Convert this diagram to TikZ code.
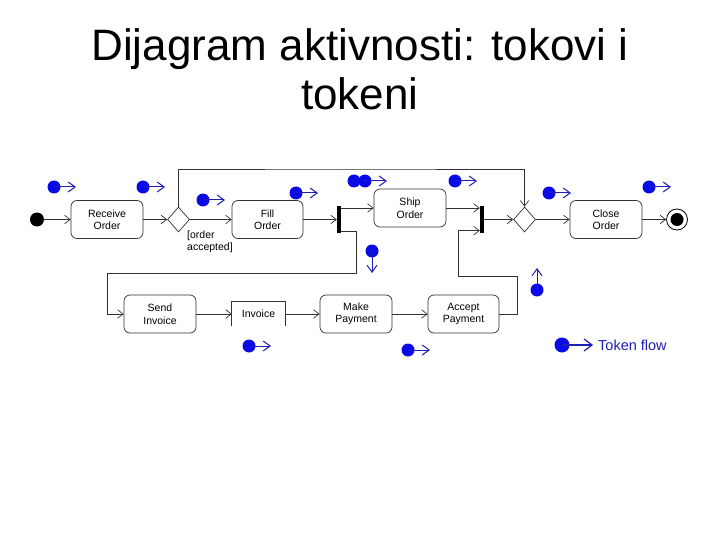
\documentclass[tikz,border=0pt]{standalone}
\usepackage{fontspec}
\setmainfont{Liberation Sans}
\usetikzlibrary{arrows.meta,shapes.geometric}
\definecolor{tokdot}{RGB}{10,10,230}
\definecolor{tokarr}{RGB}{30,30,180}
\definecolor{lin}{RGB}{50,50,50}
\begin{document}
\begin{tikzpicture}[x=1pt,y=-1pt,
  act/.style={draw=lin, line width=0.7pt, rounded corners=6pt, minimum width=72pt, minimum height=38pt, inner sep=0pt, align=center, font=\fontsize{10.5}{12.5}\selectfont},
  flow/.style={draw=lin, line width=0.7pt, -{Straight Barb[length=5.5pt,width=8.5pt]}},
  plain/.style={draw=lin, line width=0.7pt},
  bar/.style={fill=black, minimum width=4pt, minimum height=26pt, inner sep=0pt},
  dec/.style={diamond, draw=lin, line width=0.7pt, minimum width=22pt, minimum height=25pt, inner sep=0pt},
  token/.pic={\fill[tokdot] (0,0) circle (6.5pt);
    \draw[tokarr, line width=1pt, -{Straight Barb[length=7pt,width=10pt]}] (0,0) -- (22,0);},
]
\useasboundingbox (0,0) rectangle (720,540);
\fill[white] (0,0) rectangle (720,540);

% title
\node[anchor=base, font=\fontsize{44}{50}\selectfont, inner sep=0pt] (t1) at (360,61) {Dijagram aktivnosti: tokovi i};
\node[anchor=base, font=\fontsize{44}{50}\selectfont, inner sep=0pt] (t2) at (360,110) {tokeni};

% main row
\node[circle, fill=black, minimum size=14pt, inner sep=0pt] (init) at (37,219.5) {};
\node[act] (recv) at (107,219.5) {Receive\\Order};
\node[dec] (d1) at (178.5,219.5) {};
\node[act, minimum width=71pt] (fill) at (267.5,219.5) {Fill\\Order};
\node[bar] (fork1) at (339,219.5) {};
\node[act] (ship) at (410,208) {Ship\\Order};
\node[bar] (join) at (482,219.5) {};
\node[dec] (d2) at (524.5,219.5) {};
\node[act] (close) at (606,219.5) {Close\\Order};
\node[circle, draw=black, line width=0.8pt, minimum size=21pt, inner sep=0pt,
  path picture={\fill[black] (path picture bounding box.center) circle (6.5pt);}] (final) at (677,219.5) {};

\node[anchor=north west, align=left, inner sep=0pt, font=\fontsize{10.5}{12}\selectfont] (guard) at (187,231) {[order\\accepted]};

% bottom row
\node[act] (send) at (160,314) {Send\\Invoice};
\node[inner sep=0pt, minimum width=53pt, minimum height=24pt, font=\fontsize{10.5}{12.5}\selectfont] (inv) at (258.5,314) {Invoice};
\node[act] (make) at (356,314) {Make\\Payment};
\node[act, minimum width=71pt] (accept) at (463.5,314) {Accept\\Payment};

\draw[plain] (inv.south west) -- (inv.north west) -- (inv.north east) -- (inv.south east);

% helper coordinates
\coordinate (top) at (350,169);
\coordinate (c1) at (356,273);
\coordinate (c2) at (107,273);
\coordinate (c3) at (517,276);
\coordinate (c4) at (458,276);

% connectors
\draw[flow] (init) -- (recv);
\draw[flow] (recv) -- (d1);
\draw[flow] (d1) -- (fill);
\draw[flow] (fill) -- (fork1);
\draw[flow] (fork1.east |- ship.west) -- (ship.west);
\draw[flow] (ship.east) -- (join.west |- ship.east);
\draw[flow] ([yshift=1pt]fork1.south east) -| (c1) -- (c2) |- (send.west);
\draw[flow] (accept.east) -| (c3) -- (c4) |- ([yshift=2pt]join.south west);
\draw[flow] (join) -- (d2);
\draw[flow] (d2) -- (close);
\draw[flow] (close) -- (final);
\draw[flow] (d1.north) |- (top) -| (d2.north);
\draw[flow] (send) -- (inv);
\draw[flow] (inv) -- (make);
\draw[flow] (make) -- (accept);

% tokens
\pic at (54,187) {token};
\pic at (143,187) {token};
\pic at (203,200) {token};
\pic at (296,193) {token};
\fill[tokdot] (354,181) circle (6.5pt);
\pic at (365,181) {token};
\pic at (455,181) {token};
\pic[rotate=-90] at (372,251) {token};
\pic at (549,193) {token};
\pic at (649,187) {token};
\pic[rotate=90] at (537,290) {token};
\pic at (249,346) {token};
\pic at (408,350) {token};

% legend
\fill[tokdot] (562,345) circle (7.5pt);
\draw[tokarr, line width=1.2pt, -{Straight Barb[length=8pt,width=12pt]}] (562,345) -- (593,345);
\node[anchor=west, inner sep=0pt, text=tokarr, font=\fontsize{14.5}{16}\selectfont] (legend) at (598,345) {Token flow};
\end{tikzpicture}
\end{document}
